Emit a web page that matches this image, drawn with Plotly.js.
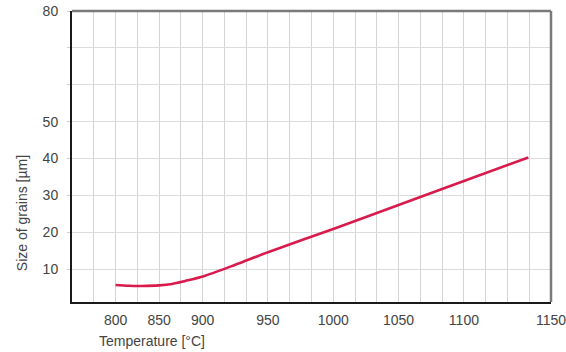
<!DOCTYPE html>
<html>
<head>
<meta charset="utf-8">
<script src="https://cdn.plot.ly/plotly-3.0.1.min.js"></script>
<style>html,body{margin:0;padding:0;background:#fff;}#chart{width:566px;height:352px;}</style>
</head>
<body>
<div id="chart"></div>
<script>
// ---- data ----
const temperature = [800, 815, 830, 850, 865, 880, 900, 925, 950, 1000, 1050, 1100, 1137];
const grainSize   = [5.7, 5.5, 5.45, 5.6, 6.0, 6.8, 8.0, 11.2, 14.6, 20.9, 27.4, 33.9, 40.3];

const tempTickLabels = [800, 850, 900, 950, 1000, 1050, 1100, 1150];
const sizeTickValues = [10, 20, 30, 40, 50, 60, 70, 80];
const sizeTickLabels = ['10', '20', '30', '40', '50', '', '', '80'];

// ---- the reference's temperature axis is not uniform: each label sits on a
// particular vertical grid line (grid lines are evenly spaced). Build that scale.
const tempScaleGridLine = [2, 4, 6, 9, 12, 15, 18, 22];
function tempToAxis(t) {
  const k = tempTickLabels, g = tempScaleGridLine;
  let i = 0;
  while (i < k.length - 2 && t > k[i + 1]) i++;
  return g[i] + (t - k[i]) / (k[i + 1] - k[i]) * (g[i + 1] - g[i]);
}

const font = 'Liberation Sans, Arial, Helvetica, sans-serif';
const gridCol = '#d4d4d4';
const trace = {
  x: temperature.map(tempToAxis),
  y: grainSize,
  customdata: temperature,
  type: 'scatter',
  mode: 'lines',
  line: {color: '#d81b4c', width: 2.6, shape: 'spline', smoothing: 0.8},
  hovertemplate: '%{customdata} °C: %{y} µm<extra></extra>'
};

const layout = {
  width: 566, height: 352,
  margin: {l: 72, r: 15, t: 11, b: 50, autoexpand: false},
  paper_bgcolor: '#fff', plot_bgcolor: '#fff',
  showlegend: false,
  font: {family: font, size: 14, color: '#444'},
  xaxis: {
    range: [-0.001, 22.001],
    tickmode: 'array',
    tickvals: tempTickLabels.map(tempToAxis),
    ticktext: tempTickLabels.map(String),
    ticks: '', ticklabelstandoff: 4,
    ticklabeloverflow: 'allow',
    showgrid: true, gridcolor: gridCol, gridwidth: 1,
    minor: {tickmode: 'linear', tick0: 0, dtick: 1, showgrid: true, gridcolor: gridCol, gridwidth: 1},
    showline: true, linecolor: '#1a1a1a', linewidth: 2,
    zeroline: false,
    tickfont: {family: font, size: 14, color: '#444'}
  },
  yaxis: {
    range: [1.1, 80],
    tickmode: 'array',
    tickvals: sizeTickValues,
    ticktext: sizeTickLabels,
    ticks: 'outside', ticklen: 3, tickcolor: '#cfcfcf',
    ticklabelstandoff: 6,
    showgrid: true, gridcolor: '#dcdcdc', gridwidth: 1,
    showline: true, linecolor: '#1a1a1a', linewidth: 2,
    zeroline: false,
    tickfont: {family: font, size: 14, color: '#444'}
  },
  shapes: [
    {type: 'line', xref: 'paper', yref: 'paper', x0: 0, x1: 1, y0: 1, y1: 1, line: {color: '#7a7a7a', width: 2.5}},
    {type: 'line', xref: 'paper', yref: 'paper', x0: 1, x1: 1, y0: 0, y1: 1, line: {color: '#7a7a7a', width: 2.5}}
  ],
  annotations: [
    {text: 'Size of grains [µm]', xref: 'paper', yref: 'paper', x: -0.104, y: 0.306,
     xanchor: 'center', yanchor: 'middle', textangle: -90, showarrow: false,
     font: {family: font, size: 14, color: '#444'}},
    {text: 'Temperature [°C]', xref: 'paper', yref: 'paper', x: 0.052, y: -0.134,
     xanchor: 'left', yanchor: 'middle', showarrow: false,
     font: {family: font, size: 14, color: '#444'}}
  ]
};

Plotly.newPlot('chart', [trace], layout, {displayModeBar: false, staticPlot: true});
</script>
</body>
</html>
